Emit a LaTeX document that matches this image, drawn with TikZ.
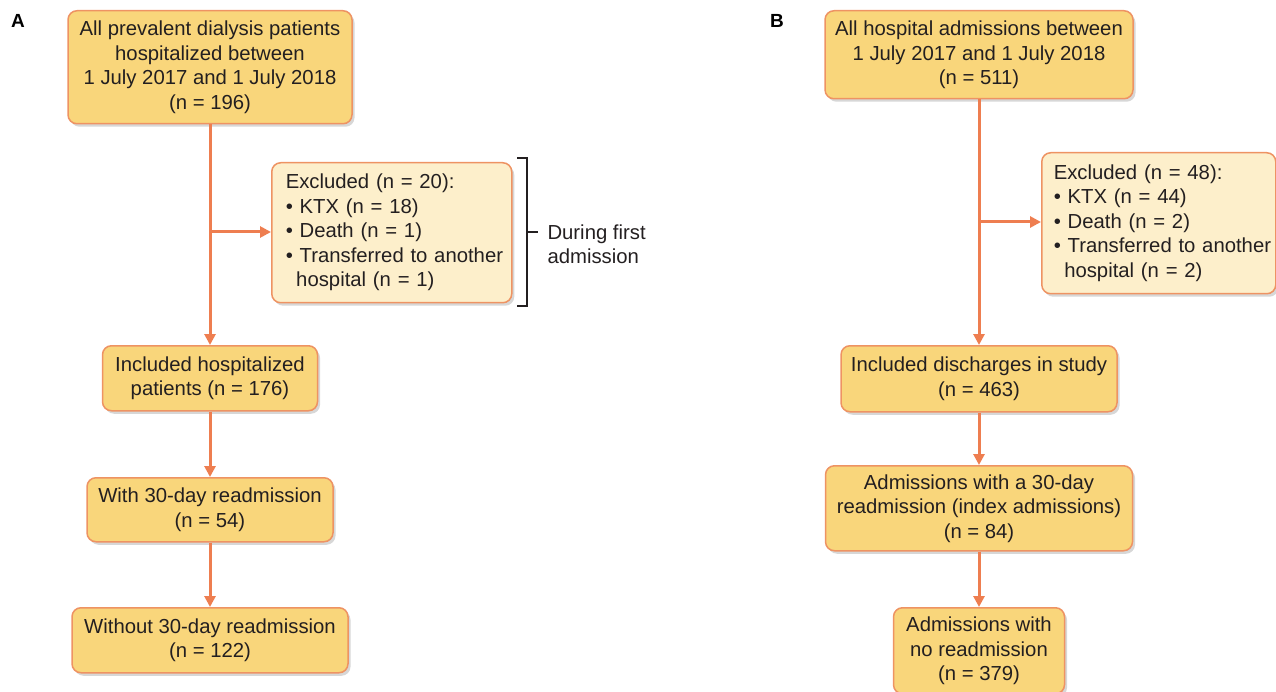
\documentclass[tikz,border=0pt]{standalone}
\usepackage{fontspec}
\setmainfont{Liberation Sans}
\usetikzlibrary{arrows.meta,shadows,positioning}
\definecolor{boxfill}{HTML}{F9D67B}
\definecolor{exfill}{HTML}{FDEFCB}
\definecolor{boxline}{HTML}{EE9363}
\definecolor{arrowc}{HTML}{EE7E50}
\definecolor{txt}{HTML}{231F20}
\tikzset{
  box/.style={draw=boxline, line width=1.5pt, fill=boxfill, rounded corners=9pt,
    align=center, inner sep=0pt, text=txt,
    font=\fontsize{20.3}{24.5}\selectfont,
    drop shadow={shadow xshift=2.5pt, shadow yshift=-3pt, opacity=0.35, fill=black!45}},
  exbox/.style={box, fill=exfill, align=left, inner xsep=14pt},
  flow/.style={draw=arrowc, line width=3pt, -{Triangle[length=11pt,width=11pt]}},
  brk/.style={draw=txt, line width=1.3pt},
  panel/.style={font=\fontsize{19}{22}\selectfont\bfseries, text=black},
  note/.style={align=left, text=txt, font=\fontsize{20.3}{24.5}\selectfont, anchor=west}
}
\begin{document}
\begin{tikzpicture}[x=1pt,y=-1pt]
\useasboundingbox (0,0) rectangle (1276,692);

\node[panel] (pa) at (18,21) {A};
\node[panel] (pb) at (777,21) {B};

% Panel A
\node[box, anchor=north, minimum width=284pt, minimum height=113pt] (a1) at (210,10)
  {All prevalent dialysis patients\\hospitalized between\\1 July 2017 and 1 July 2018\\(n = 196)};
\node[exbox, anchor=north west, text width=212pt, minimum height=140pt] (ea) at (271,162)
  {\mbox{Excluded (n = 20):}\\\mbox{• KTX (n = 18)}\\\mbox{• Death (n = 1)}\\\mbox{• Transferred to another}\\\mbox{\hphantom{•\,}hospital (n = 1)}};
\node[box, anchor=north, minimum width=215pt, minimum height=65pt] (a2) at (210,345)
  {Included hospitalized\\patients (n = 176)};
\node[box, anchor=north, minimum width=246pt, minimum height=64pt] (a3) at (210,477)
  {With 30-day readmission\\(n = 54)};
\node[box, anchor=north, minimum width=276pt, minimum height=65pt] (a4) at (210,607)
  {Without 30-day readmission\\(n = 122)};

\coordinate (sa) at (210,232);
\draw[flow] (a1.south) -- (a2.north);
\draw[flow] (sa) -- (ea.west |- sa);
\draw[flow] (a2.south) -- (a3.north);
\draw[flow] (a3.south) -- (a4.north);

\coordinate (bt) at (517,158);
\coordinate (btr) at (527,158);
\coordinate (bbr) at (527,306);
\coordinate (bb) at (517,306);
\coordinate (bm) at (527,232);
\coordinate (bme) at (538,232);
\draw[brk] (bt) -- (btr) -- (bbr) -- (bb);
\draw[brk] (bm) -- (bme);
\node[note] (dur) at (544,244) {During first\\admission};

% Panel B
\node[box, anchor=north, minimum width=308pt, minimum height=88pt] (b1) at (979,10)
  {All hospital admissions between\\1 July 2017 and 1 July 2018\\(n = 511)};
\node[exbox, anchor=north west, inner xsep=12pt, text width=210pt, minimum height=141pt] (eb) at (1041,152)
  {\mbox{Excluded (n = 48):}\\\mbox{• KTX (n = 44)}\\\mbox{• Death (n = 2)}\\\mbox{• Transferred to another}\\\mbox{\hphantom{•\,}hospital (n = 2)}};
\node[box, anchor=north, minimum width=276pt, minimum height=66pt] (b2) at (979,345)
  {Included discharges in study\\(n = 463)};
\node[box, anchor=north, minimum width=307pt, minimum height=85pt] (b3) at (979,465)
  {Admissions with a 30-day\\readmission (index admissions)\\(n = 84)};
\node[box, anchor=north, minimum width=171pt, minimum height=86pt] (b4) at (979,607)
  {Admissions with\\no readmission\\(n = 379)};

\coordinate (sb) at (979,222);
\draw[flow] (b1.south) -- (b2.north);
\draw[flow] (sb) -- (eb.west |- sb);
\draw[flow] (b2.south) -- (b3.north);
\draw[flow] (b3.south) -- (b4.north);
\end{tikzpicture}
\end{document}
